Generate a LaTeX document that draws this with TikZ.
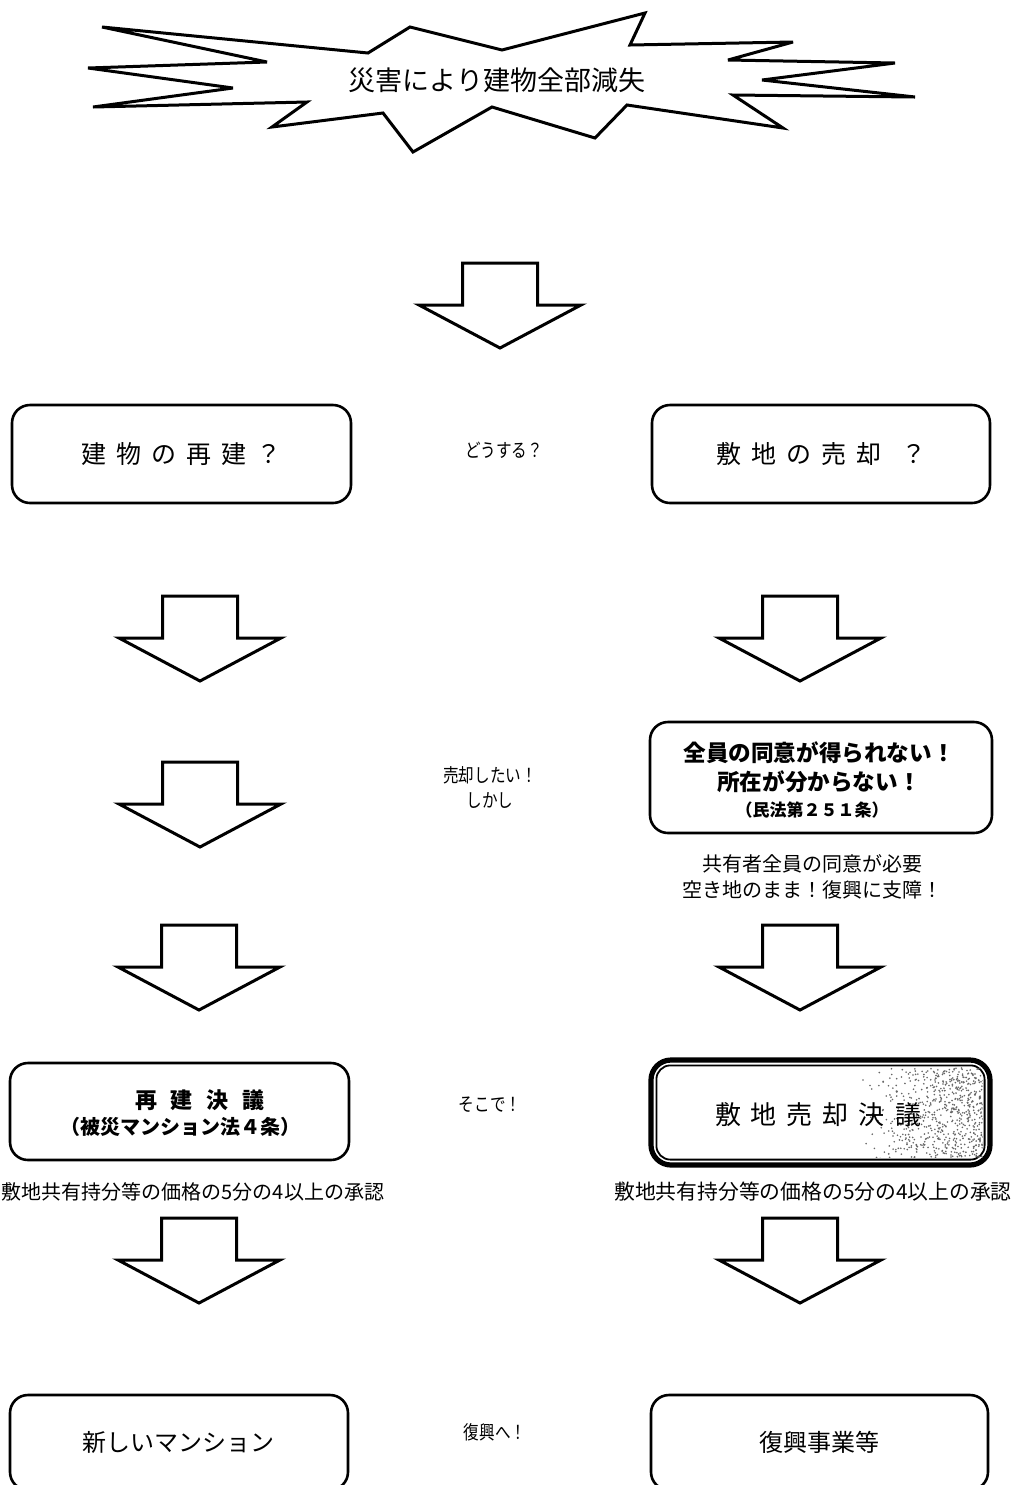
\documentclass[tikz,border=0pt]{standalone}
\usepackage{fontspec}
\usepackage{graphicx}
\newfontfamily\jp{Noto Sans CJK JP}
\usetikzlibrary{calc}
\newcommand\gp{\hspace{5pt}}
\newcommand\fsz[1]{\fontsize{#1}{#1}\selectfont}
\newcommand\cnd[1]{\scalebox{0.82}[1]{#1}}
\begin{document}
\begin{tikzpicture}[x=0.5pt,y=-0.5pt,
  box/.style={draw, line width=1.3pt, rounded corners=9pt, inner sep=0pt, font=\jp, align=center},
  lbl/.style={font=\jp, align=center, inner sep=0pt},
  pics/downarr/.style={code={\draw[line width=1.5pt, line join=miter, fill=white]
     (-37.5,0) -- (37.5,0) -- (37.5,42) -- (81,42) -- (0,85) -- (-81,42) -- (-37.5,42) -- cycle;}}
]
\useasboundingbox[fill=white] (0,0) rectangle (1014,1485);

% burst
\draw[line width=1.5pt, line join=miter, miter limit=6]
  (102,27) -- (368,53) -- (410,27) -- (502,50) -- (645,13) -- (630,45) -- (793,42) -- (728,60)
  -- (895,63) -- (762,80) -- (915,97) -- (733,95) -- (783,128) -- (627,105) -- (595,138)
  -- (492,107) -- (413,152) -- (383,113) -- (272,127) -- (307,102) -- (93,107) -- (233,88)
  -- (88,68) -- (267,62) -- cycle;
\node[lbl] (burst) at (497,80) {\fsz{13.5}災害により建物全部減失};

% arrows
\pic at (500,263) {downarr};
\pic at (200,596) {downarr};
\pic at (200,762) {downarr};
\pic at (199,925) {downarr};
\pic at (199,1218) {downarr};
\pic at (800,596) {downarr};
\pic at (800,925) {downarr};
\pic at (800,1218) {downarr};

% row 1
\node[box, minimum width=169.5pt, minimum height=49pt] (l1) at (181.5,454)
  {\fsz{12.5}建\gp 物\gp の\gp 再\gp 建\gp ？};
\node[box, minimum width=169pt, minimum height=49pt] (r1) at (821,454)
  {\fsz{12.5}敷\gp 地\gp の\gp 売\gp 却\gp\gp ？};
\node[lbl] (q) at (504,450) {\fsz{9.5}\cnd{どうする？}};

% row 2
\node[box, minimum width=171pt, minimum height=55.5pt] (r2) at (821,777.5) {};
\node[lbl] (r2a) at (819,753) {\fsz{11.3}\bfseries 全員の同意が得られない！};
\node[lbl] (r2b) at (819,782) {\fsz{11.3}\bfseries 所在が分からない！};
\node[lbl] (r2c) at (812,810) {\fsz{8.5}\bfseries （民法第２５１条）};
\node[lbl] (c2a) at (812,864) {\fsz{10}共有者全員の同意が必要};
\node[lbl] (c2b) at (812,890) {\fsz{10}空き地のまま！復興に支障！};
\node[lbl] (m2a) at (490,775) {\fsz{9.5}\cnd{売却したい！}};
\node[lbl] (m2b) at (490,800) {\fsz{9.5}\cnd{しかし}};

% row 3
\node[box, minimum width=169.5pt, minimum height=48.5pt] (l3) at (179.5,1111.5) {};
\node[lbl] (l3a) at (200,1100) {\fsz{11}\bfseries 再\hspace{7pt}建\hspace{7pt}決\hspace{7pt}議};
\node[lbl] (l3b) at (181,1127) {\fsz{10}\bfseries （被災マンション法４条）};
\node[lbl] (l3c) at (193,1192) {\fsz{10}敷地共有持分等の価格の5分の4以上の承認};
\node[lbl] (m3) at (490,1105) {\fsz{9.5}\cnd{そこで！}};

\node[draw, line width=2.6pt, rounded corners=10pt, minimum width=169.5pt, minimum height=52.5pt, inner sep=0pt] (r3) at (820.5,1112.5) {};
\draw[line width=0.9pt, rounded corners=7pt] ($(r3.north west)+(8,8)$) rectangle ($(r3.south east)+(-8,-8)$);
\begin{scope}
  \clip ($(r3.north west)+(10,10)$) rectangle ($(r3.south east)+(-10,-10)$);
  \pgfmathsetseed{7}
  \foreach \i in {1,...,700} {
    \pgfmathsetmacro\px{862+125*sqrt(rnd)}
    \pgfmathsetmacro\py{1068+92*rnd}
    \fill[black!60] (\px,\py) circle (0.45pt);
  }
\end{scope}
\node[lbl] (r3t) at (818,1115) {\fsz{13}敷\gp 地\gp 売\gp 却\gp 決\gp 議};
\node[lbl] (r3c) at (813,1192) {\fsz{10.4}敷地共有持分等の価格の5分の4以上の承認};

% row 4
\node[box, minimum width=169pt, minimum height=47.5pt] (l4) at (179,1442.5) {\fsz{12}新しいマンション};
\node[box, minimum width=168.5pt, minimum height=47.5pt] (r4) at (819.5,1442.5) {\fsz{12}復興事業等};
\node[lbl] (m4) at (495,1432) {\fsz{9.5}\cnd{復興へ！}};
\end{tikzpicture}
\end{document}
